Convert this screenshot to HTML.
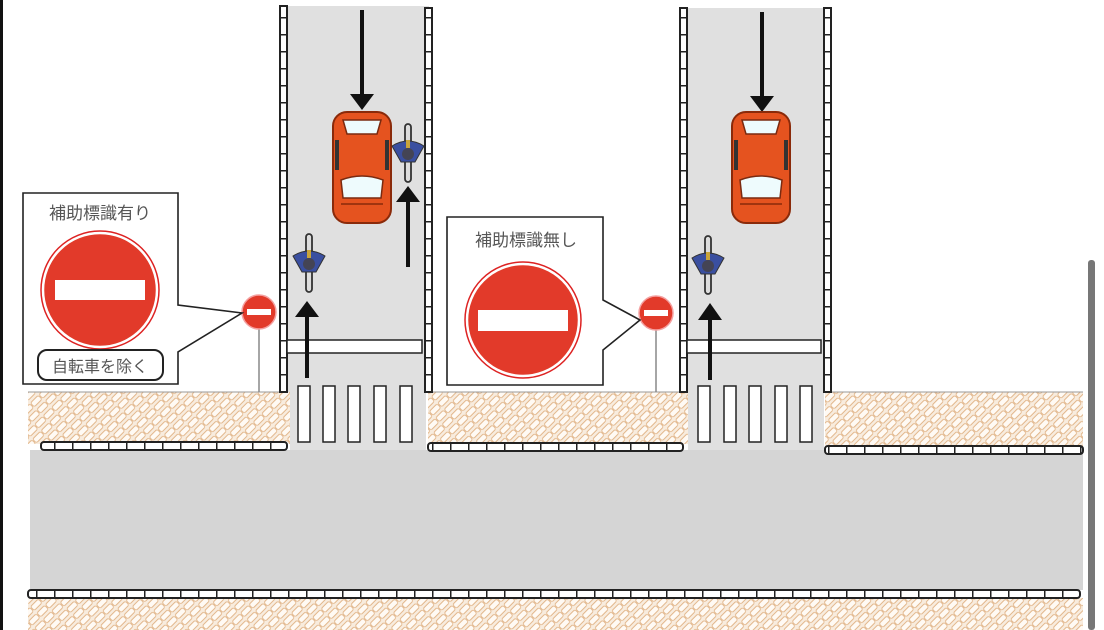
<!DOCTYPE html>
<html><head><meta charset="utf-8"><style>
html,body{margin:0;padding:0;background:#fff;width:1104px;height:630px;overflow:hidden}
svg{display:block}
text{font-family:"Liberation Sans","Noto Sans CJK JP",sans-serif}
</style></head><body>
<svg width="1104" height="630" viewBox="0 0 1104 630" xmlns="http://www.w3.org/2000/svg">
<defs>
<pattern id="hatch" width="12" height="9" patternUnits="userSpaceOnUse" patternTransform="rotate(-45)">
<rect width="12" height="9" fill="#f8ecde"/>
<rect x="0.5" y="0.5" width="11" height="5.5" fill="#fffaf4" stroke="#e2b78c" stroke-width="0.9" rx="2"/>
</pattern>
<pattern id="tickH" width="18" height="10" patternUnits="userSpaceOnUse">
<line x1="0.5" y1="0" x2="0.5" y2="10" stroke="#222" stroke-width="2"/>
</pattern>
<pattern id="tickV" width="10" height="17" patternUnits="userSpaceOnUse">
<line x1="0" y1="0.5" x2="10" y2="0.5" stroke="#222" stroke-width="2"/>
</pattern>
<g id="car">
<rect x="0" y="0" width="58" height="111" rx="14" fill="#e5531f" stroke="#8a2a0a" stroke-width="2"/>
<path d="M10 8 L48 8 L44 22 L14 22 Z" fill="#eefbfd" stroke="#7a2a10" stroke-width="1.5"/>
<path d="M8 68 Q29 60 50 68 L48 86 L10 86 Z" fill="#eefbfd" stroke="#7a2a10" stroke-width="1.5"/>
<rect x="2" y="28" width="4" height="30" fill="#333"/>
<rect x="52" y="28" width="4" height="30" fill="#333"/>
<path d="M8 92 L50 92" stroke="#8a2a0a" stroke-width="1.5"/>
</g>
<g id="bike">
<rect x="-3" y="0" width="6" height="58" rx="3" fill="#ddd" stroke="#333" stroke-width="1.8"/>
<path d="M-16 22 Q0 12 16 22 L7 38 L-7 38 Z" fill="#3a4fa0" stroke="#333" stroke-width="1"/>
<circle cx="0" cy="30" r="6" fill="#445"/>
<rect x="-2" y="16" width="4" height="8" fill="#c9a43a"/>
</g>
</defs>

<rect x="0" y="0" width="3" height="630" fill="#111"/>
<rect x="1088" y="260" width="7" height="370" rx="3" fill="#777"/>

<rect x="284" y="6" width="145" height="386" fill="#e0e0e0"/>
<rect x="683" y="8" width="145" height="384" fill="#e0e0e0"/>
<rect x="290" y="390" width="136" height="60" fill="#e0e0e0"/>
<rect x="688" y="390" width="136" height="60" fill="#e0e0e0"/>

<rect x="28" y="392" width="262" height="52" fill="url(#hatch)"/>
<rect x="428" y="392" width="260" height="52" fill="url(#hatch)"/>
<rect x="825" y="392" width="258" height="54" fill="url(#hatch)"/>
<line x1="28" y1="392" x2="280" y2="392" stroke="#999" stroke-width="1"/>
<line x1="433" y1="392" x2="680" y2="392" stroke="#999" stroke-width="1"/>
<line x1="832" y1="392" x2="1083" y2="392" stroke="#999" stroke-width="1"/>
<rect x="28" y="598" width="1055" height="32" fill="url(#hatch)"/>

<rect x="30" y="450" width="1053" height="140" fill="#d5d5d5"/>

<g stroke="#222" stroke-width="2">
<rect x="41" y="442" width="246" height="8" rx="3" fill="#fff"/>
<rect x="41" y="442" width="246" height="8" fill="url(#tickH)" stroke="none"/>
<rect x="428" y="443" width="255" height="8" rx="3" fill="#fff"/>
<rect x="428" y="443" width="255" height="8" fill="url(#tickH)" stroke="none"/>
<rect x="825" y="446" width="258" height="8" rx="3" fill="#fff"/>
<rect x="825" y="446" width="258" height="8" fill="url(#tickH)" stroke="none"/>
<rect x="28" y="590" width="1052" height="8" rx="3" fill="#fff"/>
<rect x="28" y="590" width="1052" height="8" fill="url(#tickH)" stroke="none"/>
</g>
<g stroke="#222" stroke-width="2">
<rect x="280" y="6" width="7" height="386" fill="#fff"/>
<rect x="280" y="6" width="7" height="386" fill="url(#tickV)" stroke="none"/>
<rect x="425" y="8" width="7" height="384" fill="#fff"/>
<rect x="425" y="8" width="7" height="384" fill="url(#tickV)" stroke="none"/>
<rect x="680" y="8" width="7" height="384" fill="#fff"/>
<rect x="680" y="8" width="7" height="384" fill="url(#tickV)" stroke="none"/>
<rect x="824" y="8" width="7" height="384" fill="#fff"/>
<rect x="824" y="8" width="7" height="384" fill="url(#tickV)" stroke="none"/>
</g>

<rect x="287" y="340" width="135" height="13" fill="#fff" stroke="#222" stroke-width="1.5"/>
<rect x="687" y="340" width="134" height="13" fill="#fff" stroke="#222" stroke-width="1.5"/>

<g fill="#fff" stroke="#222" stroke-width="1.5">
<rect x="298" y="386" width="12" height="56"/><rect x="323" y="386" width="12" height="56"/><rect x="348" y="386" width="12" height="56"/><rect x="374" y="386" width="12" height="56"/><rect x="400" y="386" width="12" height="56"/>
<rect x="698" y="386" width="12" height="56"/><rect x="724" y="386" width="12" height="56"/><rect x="749" y="386" width="12" height="56"/><rect x="775" y="386" width="12" height="56"/><rect x="800" y="386" width="12" height="56"/>
</g>

<g fill="#111" stroke="#111">
<line x1="362" y1="10" x2="362" y2="96" stroke-width="4"/><path d="M350 94 L374 94 L362 110 Z" stroke="none"/>
<line x1="762" y1="12" x2="762" y2="98" stroke-width="4"/><path d="M750 96 L774 96 L762 112 Z" stroke="none"/>
<line x1="408" y1="267" x2="408" y2="200" stroke-width="4"/><path d="M396 202 L420 202 L408 186 Z" stroke="none"/>
<line x1="307" y1="378" x2="307" y2="315" stroke-width="4"/><path d="M295 317 L319 317 L307 301 Z" stroke="none"/>
<line x1="710" y1="380" x2="710" y2="318" stroke-width="4"/><path d="M698 320 L722 320 L710 303 Z" stroke="none"/>
</g>

<use href="#car" x="333" y="112"/>
<use href="#car" x="732" y="112"/>
<use href="#bike" x="309" y="234"/>
<use href="#bike" x="408" y="124"/>
<use href="#bike" x="708" y="236"/>

<line x1="259" y1="325" x2="259" y2="392" stroke="#888" stroke-width="1.5"/>
<circle cx="259" cy="312" r="17" fill="#e23a2a" stroke="#f4a0a0" stroke-width="1.5"/>
<rect x="247" y="309" width="24" height="6" fill="#fff"/>
<line x1="656" y1="325" x2="656" y2="392" stroke="#888" stroke-width="1.5"/>
<circle cx="656" cy="313" r="17" fill="#e23a2a" stroke="#f4a0a0" stroke-width="1.5"/>
<rect x="644" y="310" width="24" height="6" fill="#fff"/>

<path d="M178 305 L178 193 L23 193 L23 384 L178 384 L178 352 L242 313 Z" fill="#fff" stroke="#222" stroke-width="1.6"/>
<text x="100" y="219" text-anchor="middle" font-size="17" fill="#555">補助標識有り</text>
<circle cx="100" cy="290" r="57" fill="#e23a2a" stroke="#fff" stroke-width="2.5"/>
<circle cx="100" cy="290" r="59" fill="none" stroke="#d22" stroke-width="1.5"/>
<rect x="55" y="280" width="90" height="20" fill="#fff"/>
<rect x="38" y="350" width="125" height="30" rx="9" fill="#fff" stroke="#222" stroke-width="2"/>
<text x="100" y="372" text-anchor="middle" font-size="16" fill="#555">自転車を除く</text>

<path d="M603 300 L603 217 L447 217 L447 385 L603 385 L603 350 L640 320 Z" fill="#fff" stroke="#222" stroke-width="1.6"/>
<text x="526" y="246" text-anchor="middle" font-size="17" fill="#555">補助標識無し</text>
<circle cx="523" cy="320" r="56" fill="#e23a2a" stroke="#fff" stroke-width="2.5"/>
<circle cx="523" cy="320" r="58" fill="none" stroke="#d22" stroke-width="1.5"/>
<rect x="478" y="310" width="90" height="21" fill="#fff"/>
</svg>
</body></html>
